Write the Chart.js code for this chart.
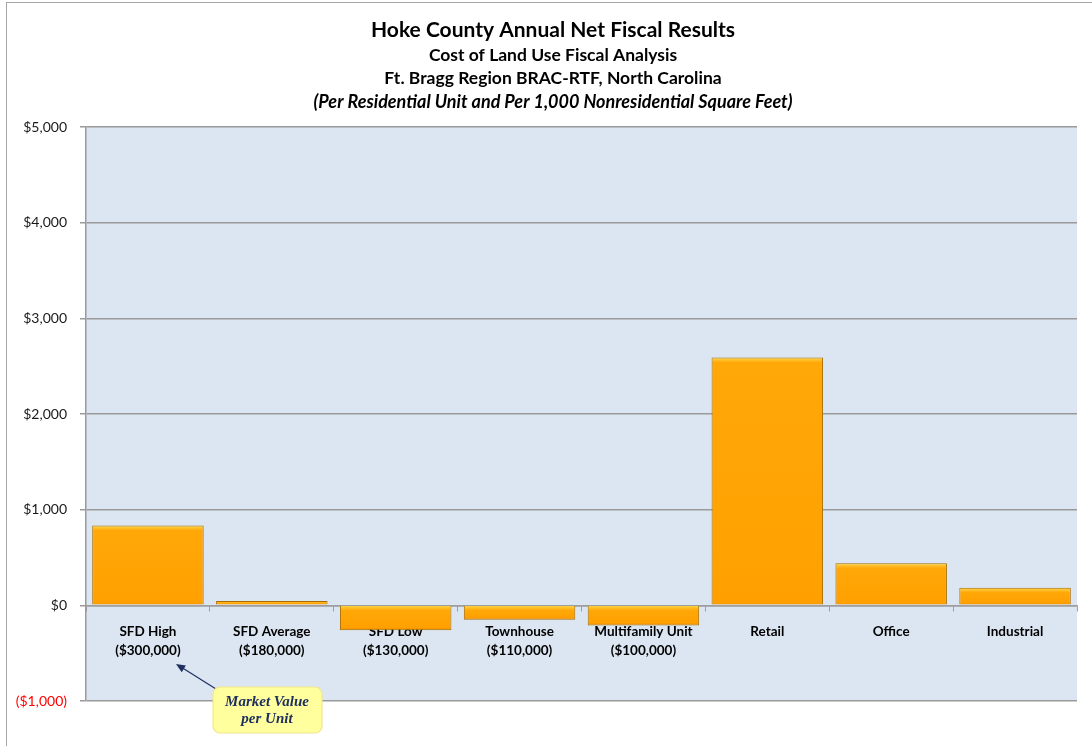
<!DOCTYPE html>
<html>
<head>
<meta charset="utf-8">
<script src="https://cdn.jsdelivr.net/npm/chart.js@4"></script>
<style>
  html, body { margin: 0; padding: 0; background: #fff; }
  #wrap { width: 1092px; height: 746px; position: relative; }
</style>
</head>
<body>
<div id="wrap"><canvas id="fiscalChart" width="1092" height="746"></canvas></div>
<script>
// hoke county net fiscal results
const categories = [
    ["SFD High", "($300,000)"],
    ["SFD Average", "($180,000)"],
    ["SFD Low", "($130,000)"],
    ["Townhouse", "($110,000)"],
    ["Multifamily Unit", "($100,000)"],
    ["Retail"],
    ["Office"],
    ["Industrial"]
];
const netFiscal = [835, 45, -260, -150, -210, 2590, 440, 185];
const titleLines = [
    "Hoke County Annual Net Fiscal Results",
    "Cost of Land Use Fiscal Analysis",
    "Ft. Bragg Region BRAC-RTF, North Carolina",
    "(Per Residential Unit and Per 1,000 Nonresidential Square Feet)"
];
const calloutLines = ["Market Value", "per Unit"];

const fontFamily = "Lato, 'Open Sans', sans-serif";

function money(v) {
    const s = "$" + Math.abs(v).toLocaleString("en-US");
    return v < 0 ? "(" + s + ")" : s;
}

// orange bar with a light bevel along its top edge
function barFill(c) {
    const chart = c.chart;
    const y = chart.scales.y;
    if (!y || c.dataIndex === undefined) return '#ffa305';
    const v = c.dataset.data[c.dataIndex];
    const p1 = y.getPixelForValue(Math.max(v, 0));
    const p2 = y.getPixelForValue(Math.min(v, 0));
    if (!isFinite(p1) || !isFinite(p2) || p2 - p1 < 1) return '#ffa305';
    const g = chart.ctx.createLinearGradient(0, p1, 0, p2);
    const edge = Math.min(0.45, 5 / (p2 - p1));
    g.addColorStop(0, '#ffd84a');
    g.addColorStop(edge, '#ffa808');
    g.addColorStop(1 - edge * 0.5, '#ffa000');
    g.addColorStop(1, '#e08900');
    return g;
}

const decorPlugin = {
    id: 'decor',
    beforeDraw(chart) {
        const ctx = chart.ctx;
        const a = chart.chartArea;
        ctx.save();
        // outer frame of the chart
        ctx.strokeStyle = '#a6a6a6';
        ctx.lineWidth = 1;
        ctx.strokeRect(6.5, 2.5, 1200, 800);
        // plot background
        ctx.fillStyle = '#dce6f2';
        ctx.fillRect(a.left, a.top, a.right - a.left, a.bottom - a.top);
        // titles
        ctx.fillStyle = '#000';
        ctx.textAlign = 'center';
        ctx.textBaseline = 'middle';
        const cx = 553;
        ctx.font = "bold 21px " + fontFamily;
        ctx.fillText(titleLines[0], cx, 30);
        ctx.font = "bold 17.5px " + fontFamily;
        ctx.fillText(titleLines[1], cx, 55);
        ctx.fillText(titleLines[2], cx, 78);
        ctx.font = "italic bold 18px " + fontFamily;
        ctx.fillText(titleLines[3], cx, 102);
        ctx.restore();
    },
    afterDraw(chart) {
        const ctx = chart.ctx;
        ctx.save();
        // arrow
        ctx.strokeStyle = '#1f3060';
        ctx.fillStyle = '#1f3060';
        ctx.lineWidth = 1.2;
        ctx.beginPath();
        ctx.moveTo(216, 689);
        ctx.lineTo(181, 667);
        ctx.stroke();
        const ang = Math.atan2(667 - 689, 181 - 216);
        ctx.beginPath();
        ctx.moveTo(176, 664);
        ctx.lineTo(176 - 10 * Math.cos(ang - 0.4), 664 - 10 * Math.sin(ang - 0.4));
        ctx.lineTo(176 - 10 * Math.cos(ang + 0.4), 664 - 10 * Math.sin(ang + 0.4));
        ctx.closePath();
        ctx.fill();
        // callout box
        ctx.fillStyle = '#ffff9e';
        ctx.strokeStyle = '#f0e68c';
        ctx.beginPath();
        ctx.roundRect(213, 687, 109, 46, 7);
        ctx.fill();
        ctx.stroke();
        ctx.fillStyle = '#1f3060';
        ctx.textAlign = 'center';
        ctx.textBaseline = 'middle';
        ctx.font = "italic bold 15px 'Liberation Serif', serif";
        ctx.fillText(calloutLines[0], 267, 702);
        ctx.fillText(calloutLines[1], 267, 719);
        ctx.restore();
    }
};

const ctx = document.getElementById('fiscalChart').getContext('2d');
new Chart(ctx, {
    type: 'bar',
    data: {
        labels: categories,
        datasets: [{
            data: netFiscal,
            backgroundColor: barFill,
            borderColor: '#a86c00',
            borderWidth: 1,
            categoryPercentage: 1,
            barPercentage: 0.9
        }]
    },
    options: {
        responsive: false,
        animation: false,
        layout: { padding: { top: 127, left: 12, right: 15, bottom: 45 } },
        plugins: {
            legend: { display: false },
            tooltip: { enabled: false }
        },
        scales: {
            x: {
                position: { y: 0 },
                grid: {
                    offset: true,
                    drawOnChartArea: false,
                    drawTicks: true,
                    tickLength: 5,
                    color: '#9e9e9e'
                },
                border: { color: '#9e9e9e', width: 1.5 },
                ticks: {
                    color: '#000',
                    padding: 12,
                    maxRotation: 0,
                    autoSkip: false,
                    font: { family: fontFamily, size: 13.5, weight: 'bold', lineHeight: 1.4 }
                }
            },
            y: {
                min: -1000,
                max: 5000,
                afterFit: (s) => { s.width = 74; },
                grid: { color: '#9a9a9a', lineWidth: 1.5, tickLength: 6 },
                border: { color: '#9a9a9a', width: 1.5 },
                ticks: {
                    stepSize: 1000,
                    padding: 13,
                    color: (c) => c.tick.value < 0 ? '#ff0000' : '#1a1a1a',
                    font: { family: fontFamily, size: 14 },
                    callback: (v) => money(v)
                }
            }
        }
    },
    plugins: [decorPlugin]
});
</script>
</body>
</html>
